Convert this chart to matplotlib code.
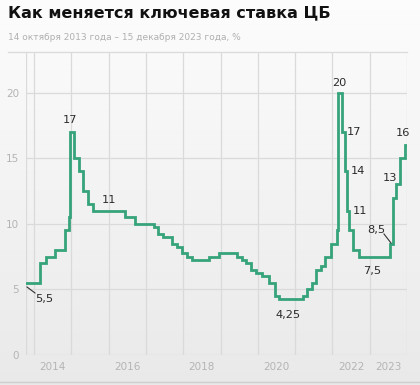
import datetime as dt
import numpy as np
import matplotlib
matplotlib.use("Agg")
import matplotlib.pyplot as plt
from matplotlib.lines import Line2D

# Key rate decisions (date, %)
dates = ["2013-10-14", "2014-03-03", "2014-04-25", "2014-07-25", "2014-10-31",
         "2014-12-11", "2014-12-16", "2015-01-30", "2015-03-13", "2015-04-30",
         "2015-06-15", "2015-07-31", "2016-06-10", "2016-09-16", "2017-03-24",
         "2017-04-28", "2017-06-16", "2017-09-15", "2017-10-27", "2017-12-15",
         "2018-02-09", "2018-03-23", "2018-09-14", "2018-12-14", "2019-06-14",
         "2019-07-26", "2019-09-06", "2019-10-25", "2019-12-13", "2020-02-07",
         "2020-04-24", "2020-06-19", "2020-07-24", "2021-03-19", "2021-04-23",
         "2021-06-11", "2021-07-23", "2021-09-10", "2021-10-22", "2021-12-17",
         "2022-02-11", "2022-02-28", "2022-04-08", "2022-04-29", "2022-05-26",
         "2022-06-10", "2022-07-22", "2022-09-16", "2023-07-21", "2023-08-15",
         "2023-09-15", "2023-10-27", "2023-12-15", "2024-01-01"]
rates = [5.5, 7.0, 7.5, 8.0, 9.5,
         10.5, 17.0, 15.0, 14.0, 12.5,
         11.5, 11.0, 10.5, 10.0, 9.75,
         9.25, 9.0, 8.5, 8.25, 7.75,
         7.5, 7.25, 7.5, 7.75, 7.5,
         7.25, 7.0, 6.5, 6.25, 6.0,
         5.5, 4.5, 4.25, 4.5, 5.0,
         5.5, 6.5, 6.75, 7.5, 8.5,
         9.5, 20.0, 17.0, 14.0, 11.0,
         9.5, 8.0, 7.5, 8.5, 12.0,
         13.0, 15.0, 16.0, 16.0]

year_labels = ["2014", "2016", "2018", "2020", "2022", "2023"]
y_ticks = [0, 5, 10, 15, 20]

# value labels: text, anchor date, value
note_text = ["5,5", "17", "11", "4,25", "20", "17", "14", "11", "8,5", "7,5", "13", "16"]
note_date = ["2013-11-01", "2014-12-16", "2016-01-01", "2020-10-27", "2022-03-10", "2022-04-18",
             "2022-05-06", "2022-06-01", "2023-07-25", "2022-12-15", "2023-09-20", "2023-12-15"]
note_value = [5.5, 17.0, 11.0, 4.25, 20.0, 17.0, 14.0, 11.0, 8.5, 7.5, 13.0, 16.0]

# label offsets in points
note_offset = [(12, -11.5), (0, 8.6), (0, 8), (0, -11.3), (0, 7), (8, 0),
               (9, 0), (9, 0), (-10, 9.8), (3, -10), (-5, 5), (-1.5, 8.6)]

x = [dt.datetime.strptime(d, "%Y-%m-%d") for d in dates]

W, H = 420, 385
fig = plt.figure(figsize=(W / 100, H / 100), dpi=100)

# background gradient
bg = fig.add_axes([0, 0, 1, 1], zorder=-10)
grad = np.linspace(0, 1, 256).reshape(-1, 1)
top = np.array([0.99, 0.99, 0.99])
bot = np.array([0.915, 0.915, 0.915])
img = top + (bot - top) * grad[:, :, None]
bg.imshow(img, aspect="auto", extent=[0, 1, 0, 1])
bg.axis("off")

ax = fig.add_axes([26 / W, 1 - 355 / H, (407 - 26) / W, (355 - 52) / H])
ax.set_facecolor("none")

ax.plot(x, rates, drawstyle="steps-post", color="#36a37b", lw=2.0, zorder=3,
        solid_joinstyle="miter")

ax.set_xlim(x[0], x[-1])
ax.set_ylim(0, 23.1)

grid_c = "#dadada"
ax.set_xticks([dt.datetime(y, 1, 1) for y in range(2014, 2025)])
ax.set_xticklabels([])
ax.set_xticks([dt.datetime(int(y), 7, 1) for y in year_labels], minor=True)
ax.set_xticklabels(year_labels, minor=True)
ax.set_yticks(y_ticks)
ax.set_yticklabels([str(v) for v in y_ticks])
ax.grid(True, which="major", color=grid_c, lw=0.9)
ax.tick_params(which="both", length=0, colors="#b4b4b4", labelsize=7.5)
ax.tick_params(axis="x", which="minor", pad=5)
ax.tick_params(axis="y", pad=5)
for s in ax.spines.values():
    s.set_visible(False)
ax.axvline(x[0], color=grid_c, lw=0.9)

for t, d, v, off in zip(note_text, note_date, note_value, note_offset):
    xd = dt.datetime.strptime(d, "%Y-%m-%d")
    ax.annotate(t, (xd, v), xytext=off, textcoords="offset points",
                ha="center", va="center", fontsize=8.2, color="#2a2a2a")

# leader lines for 5,5 and 8,5
fig.add_artist(Line2D([27 / W, 35 / W], [1 - 287 / H, 1 - 293 / H], color="#333333", lw=0.8))
fig.add_artist(Line2D([384 / W, 391 / W], [1 - 234 / H, 1 - 243 / H], color="#333333", lw=0.8))

# frame lines
fig.add_artist(Line2D([8 / W, 407 / W], [1 - 52 / H, 1 - 52 / H], color=grid_c, lw=0.9))
fig.add_artist(Line2D([0, 1], [1 - 382 / H, 1 - 382 / H], color="#cfcfcf", lw=1.0))

fig.text(8 / W, 1 - 13 / H, "Как меняется ключевая ставка ЦБ", fontsize=11.5,
         fontweight="bold", color="#111111", va="center", ha="left")
fig.text(8 / W, 1 - 38 / H, "14 октября 2013 года – 15 декабря 2023 года, %",
         fontsize=6.5, color="#b0b0b0", va="center", ha="left")

fig.savefig("out.png", dpi=100)
